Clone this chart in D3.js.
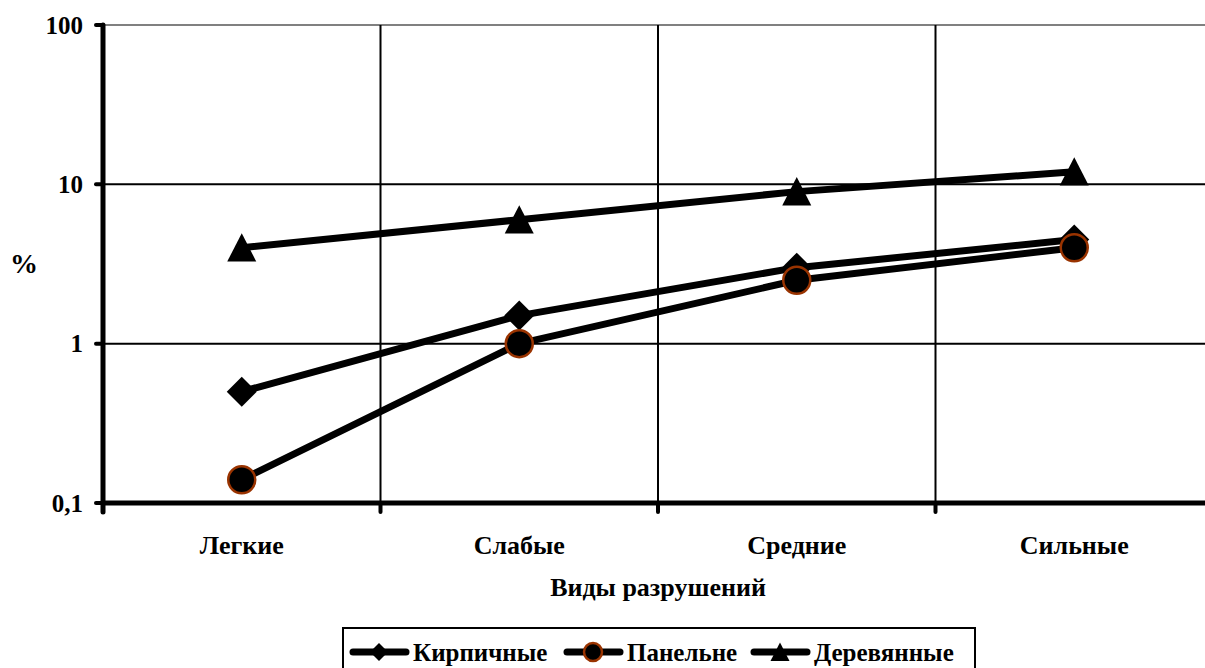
<!DOCTYPE html>
<html>
<head>
<meta charset="utf-8">
<script src="https://cdn.jsdelivr.net/npm/d3@7"></script>
<style>
  html, body { margin: 0; padding: 0; background: #fff; }
  svg { display: block; font-family: "Liberation Serif", "Times New Roman", serif; font-weight: bold; }
</style>
</head>
<body>
<svg id="chart" width="1205" height="668"></svg>
<script>
// Damage categories along the x axis
const categories = ["Легкие", "Слабые", "Средние", "Сильные"];
// Share of buildings (%) by type of construction
const brick  = [0.5, 1.5, 3.0, 4.5];
const panel  = [0.14, 1.0, 2.5, 4.0];
const wooden = [4.0, 6.0, 9.0, 12.0];
const seriesNames = ["Кирпичные", "Панельне", "Деревянные"];
// Log axis ticks and their labels
const yTicks = [0.1, 1, 10, 100];
const yTickLabels = ["0,1", "1", "10", "100"];

const svg = d3.select("#chart");
const plotLeft = 103, plotTop = 25, plotBottom = 503, plotRight = 1213;

const x = d3.scaleBand().domain(categories).range([plotLeft, plotRight]);
const y = d3.scaleLog().domain([0.1, 100]).range([plotBottom, plotTop]);

// Horizontal gridlines
svg.append("g").selectAll("line").data(yTicks.slice(1)).join("line")
  .attr("x1", plotLeft).attr("x2", plotRight)
  .attr("y1", d => y(d)).attr("y2", d => y(d))
  .attr("stroke", d => d === 100 ? "#808080" : "#000")
  .attr("stroke-width", 2);

// Vertical gridlines at category boundaries
const bounds = categories.slice(1).map(c => x(c));
svg.append("g").selectAll("line").data(bounds).join("line")
  .attr("x1", d => d).attr("x2", d => d)
  .attr("y1", plotTop).attr("y2", plotBottom)
  .attr("stroke", "#000").attr("stroke-width", 2);

// X axis line with downward ticks
svg.append("line").attr("x1", plotLeft).attr("x2", plotRight + 10)
  .attr("y1", plotBottom).attr("y2", plotBottom)
  .attr("stroke", "#000").attr("stroke-width", 5);
svg.append("g").selectAll("line").data(bounds).join("line")
  .attr("x1", d => d).attr("x2", d => d)
  .attr("y1", plotBottom).attr("y2", plotBottom + 9)
  .attr("stroke", "#000").attr("stroke-width", 4).attr("stroke-linecap", "round");

// Y axis line with left ticks
svg.append("line").attr("x1", plotLeft).attr("x2", plotLeft)
  .attr("y1", plotTop).attr("y2", plotBottom + 9)
  .attr("stroke", "#000").attr("stroke-width", 5).attr("stroke-linecap", "round");
svg.append("g").selectAll("line").data(yTicks).join("line")
  .attr("x1", plotLeft - 7).attr("x2", plotLeft)
  .attr("y1", d => y(d)).attr("y2", d => y(d))
  .attr("stroke", "#000").attr("stroke-width", 4).attr("stroke-linecap", "round");

// Y tick labels
svg.append("g").selectAll("text").data(yTicks).join("text")
  .attr("x", plotLeft - 20).attr("y", d => y(d)).attr("dy", "0.35em")
  .attr("text-anchor", "end").attr("font-size", 25)
  .text((d, i) => yTickLabels[i]);

// X tick labels
svg.append("g").selectAll("text").data(categories).join("text")
  .attr("x", d => x(d) + x.bandwidth() / 2).attr("y", 554)
  .attr("text-anchor", "middle").attr("font-size", 26)
  .text(d => d);

// Axis titles
svg.append("text").attr("x", 658).attr("y", 596).attr("text-anchor", "middle")
  .attr("font-size", 26).text("Виды разрушений");
svg.append("text").attr("x", 24).attr("y", 273).attr("text-anchor", "middle")
  .attr("font-size", 28).text("%");

// Marker drawing helpers
const diamond = (g, cx, cy, r) => g.append("path")
  .attr("d", `M${cx},${cy - r}L${cx + r},${cy}L${cx},${cy + r}L${cx - r},${cy}Z`)
  .attr("fill", "#000");
const circle = (g, cx, cy, r) => g.append("circle")
  .attr("cx", cx).attr("cy", cy).attr("r", r)
  .attr("fill", "#000").attr("stroke", "#993300").attr("stroke-width", 2.5);
const triangle = (g, cx, cy, r) => g.append("path")
  .attr("d", `M${cx},${cy - r}L${cx + r},${cy + r * 0.95}L${cx - r},${cy + r * 0.95}Z`)
  .attr("fill", "#000");
const markers = [diamond, circle, triangle];
const markerSize = [15, 13.5, 14.5];

const series = [brick, panel, wooden];
const line = d3.line()
  .x((d, i) => x(categories[i]) + x.bandwidth() / 2)
  .y(d => y(d));

series.forEach((vals, s) => {
  const g = svg.append("g");
  g.append("path").attr("d", line(vals))
    .attr("fill", "none").attr("stroke", "#000").attr("stroke-width", 7)
    .attr("stroke-linejoin", "round");
  vals.forEach((v, i) => {
    markers[s](g, x(categories[i]) + x.bandwidth() / 2, y(v), markerSize[s]);
  });
});

// Legend
const legend = svg.append("g");
legend.append("rect").attr("x", 343).attr("y", 628).attr("width", 632).attr("height", 60)
  .attr("fill", "#fff").attr("stroke", "#000").attr("stroke-width", 2);
const legendX = [349, 563, 750];
const legendMarkerSize = [9, 9, 9.5];
seriesNames.forEach((name, s) => {
  const x0 = legendX[s], cy = 652;
  legend.append("line").attr("x1", x0 + 4).attr("x2", x0 + 57)
    .attr("y1", cy).attr("y2", cy)
    .attr("stroke", "#000").attr("stroke-width", 7).attr("stroke-linecap", "round");
  markers[s](legend, x0 + 30, cy, legendMarkerSize[s]);
  legend.append("text").attr("x", x0 + 64).attr("y", cy).attr("dy", "0.35em")
    .attr("font-size", 25).text(name);
});
</script>
</body>
</html>
